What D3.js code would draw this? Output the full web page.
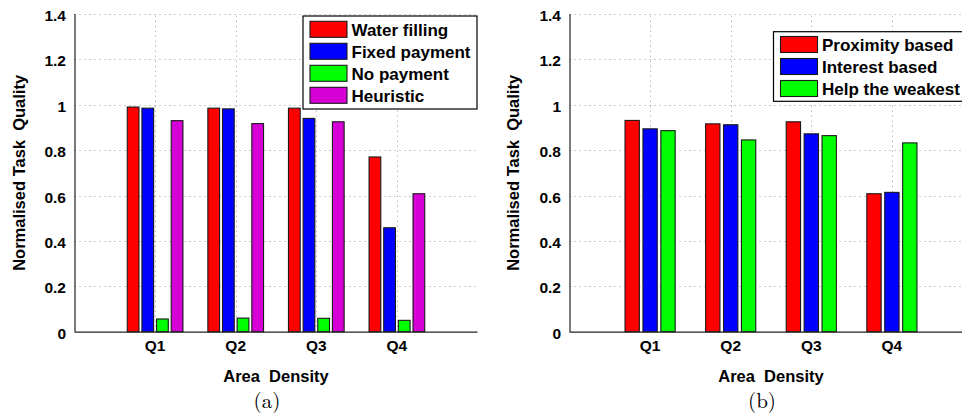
<!DOCTYPE html>
<html><head><meta charset="utf-8">
<script src="https://cdn.jsdelivr.net/npm/d3@7"></script>
<style>body{margin:0;background:#fff}svg{display:block}text{font-family:"Liberation Sans",Arial,sans-serif;font-weight:bold;fill:#000}</style>
</head><body><svg id="c" width="962" height="418"></svg>
<script>
const categories = ["Q1","Q2","Q3","Q4"];
const yTicks = [0,0.2,0.4,0.6,0.8,1,1.2,1.4];
const yTickLabels = ["0","0.2","0.4","0.6","0.8","1","1.2","1.4"];
// panel (a)
const seriesA = ["Water filling","Fixed payment","No payment","Heuristic"];
const colorsA = ["#ff0000","#0000ff","#00ff00","#d600d6"];
const waterFilling = [0.99,0.985,0.985,0.77];
const fixedPayment = [0.985,0.982,0.94,0.458];
const noPayment = [0.056,0.06,0.059,0.05];
const heuristic = [0.93,0.917,0.925,0.608];
// panel (b)
const seriesB = ["Proximity based","Interest based","Help the weakest"];
const colorsB = ["#ff0000","#0000ff","#00ff00"];
const proximityBased = [0.931,0.916,0.925,0.608];
const interestBased = [0.894,0.912,0.872,0.614];
const helpWeakest = [0.886,0.845,0.864,0.832];

const svg = d3.select("#c");

function panel(opt){
  const g = svg.append("g");
  const x = d3.scaleLinear().domain([0,5]).range([opt.x0, opt.x0 + 5*80.6]);
  const y = d3.scaleLinear().domain([0,1.4]).range([331.7,14]);
  const n = opt.data.length;
  const groupW = Math.min(0.8, n/(n+1.5));
  const step = groupW/n;
  const barW = step*0.8;
  // grid
  const grid = g.append("g").attr("stroke","#9a9a9a").attr("stroke-width",1).attr("stroke-dasharray","1,4");
  yTicks.filter(t=>t>0).forEach(t=>{
    grid.append("line").attr("x1",x(0)).attr("x2",x(5)).attr("y1",Math.round(y(t))+0.5).attr("y2",Math.round(y(t))+0.5);
  });
  categories.forEach((c,i)=>{
    grid.append("line").attr("x1",Math.round(x(i+1))+0.5).attr("x2",Math.round(x(i+1))+0.5).attr("y1",y(0)).attr("y2",y(1.4));
  });
  // bars
  opt.data.forEach((vals,s)=>{
    const off = -groupW/2 + step*(s+0.5);
    g.append("g").selectAll("rect").data(vals).join("rect")
      .attr("x",(d,i)=>x(i+1+off-barW/2))
      .attr("width",x(barW)-x(0))
      .attr("y",d=>y(d))
      .attr("height",d=>y(0)-y(d))
      .attr("fill",opt.colors[s]).attr("stroke","#1a1a1a").attr("stroke-width",1.1);
  });
  // axes lines
  g.append("line").attr("x1",x(0)).attr("x2",x(5)).attr("y1",y(0)+0.5).attr("y2",y(0)+0.5).attr("stroke","#222").attr("stroke-width",1.2);
  g.append("line").attr("x1",x(0)+0.5).attr("x2",x(0)+0.5).attr("y1",y(0)).attr("y2",y(1.4)).attr("stroke","#222").attr("stroke-width",1.2);
  // y tick labels
  g.selectAll(".yt").data(yTicks).join("text")
    .attr("x",x(0)-8.5).attr("y",d=>y(d)+7).attr("text-anchor","end")
    .attr("font-size","15.5px").text((d,i)=>yTickLabels[i]);
  // x tick labels
  g.selectAll(".xt").data(categories).join("text")
    .attr("x",(d,i)=>x(i+1)).attr("y",350.5).attr("text-anchor","middle")
    .attr("font-size","15.5px").text(d=>d);
  // axis labels
  g.append("text").attr("x",x(2.5)).attr("y",381.5).attr("text-anchor","middle")
    .attr("font-size","16.5px").attr("xml:space","preserve").style("white-space","pre").text("Area  Density");
  g.append("text").attr("transform",`translate(${opt.ylabX},${y(0.7)}) rotate(-90)`)
    .attr("text-anchor","middle").attr("font-size","16.5px").style("white-space","pre").text("Normalised Task  Quality");
  g.append("text").attr("x",x(2.5)-9).attr("y",408).attr("text-anchor","middle")
    .style("font-family","'Latin Modern Roman','DejaVu Serif','Liberation Serif',serif").style("font-weight","normal")
    .attr("font-size","21px").text(opt.caption);
  // legend
  const L = opt.legend;
  const lg = g.append("g");
  lg.append("rect").attr("x",L.x).attr("y",L.y).attr("width",L.w).attr("height",L.h)
    .attr("fill","#fff").attr("stroke","#000").attr("stroke-width",1.2);
  opt.names.forEach((nm,i)=>{
    const cy = L.y + L.first + i*L.row;
    lg.append("rect").attr("x",L.x+7).attr("y",cy-8).attr("width",37).attr("height",16)
      .attr("fill",opt.colors[i]).attr("stroke","#1a1a1a").attr("stroke-width",1.1);
    lg.append("text").attr("x",L.x+48.5).attr("y",cy+6.5).attr("font-size","17px").text(nm);
  });
}

panel({x0:74.5, data:[waterFilling,fixedPayment,noPayment,heuristic], colors:colorsA, names:seriesA,
  ylabX:25, caption:"(a)", legend:{x:303,y:16,w:174,h:93,first:13.3,row:22}});
panel({x0:569.5, data:[proximityBased,interestBased,helpWeakest], colors:colorsB, names:seriesB,
  ylabX:519, caption:"(b)", legend:{x:773.5,y:31.7,w:200,h:69.6,first:12.8,row:22}});
</script></body></html>
